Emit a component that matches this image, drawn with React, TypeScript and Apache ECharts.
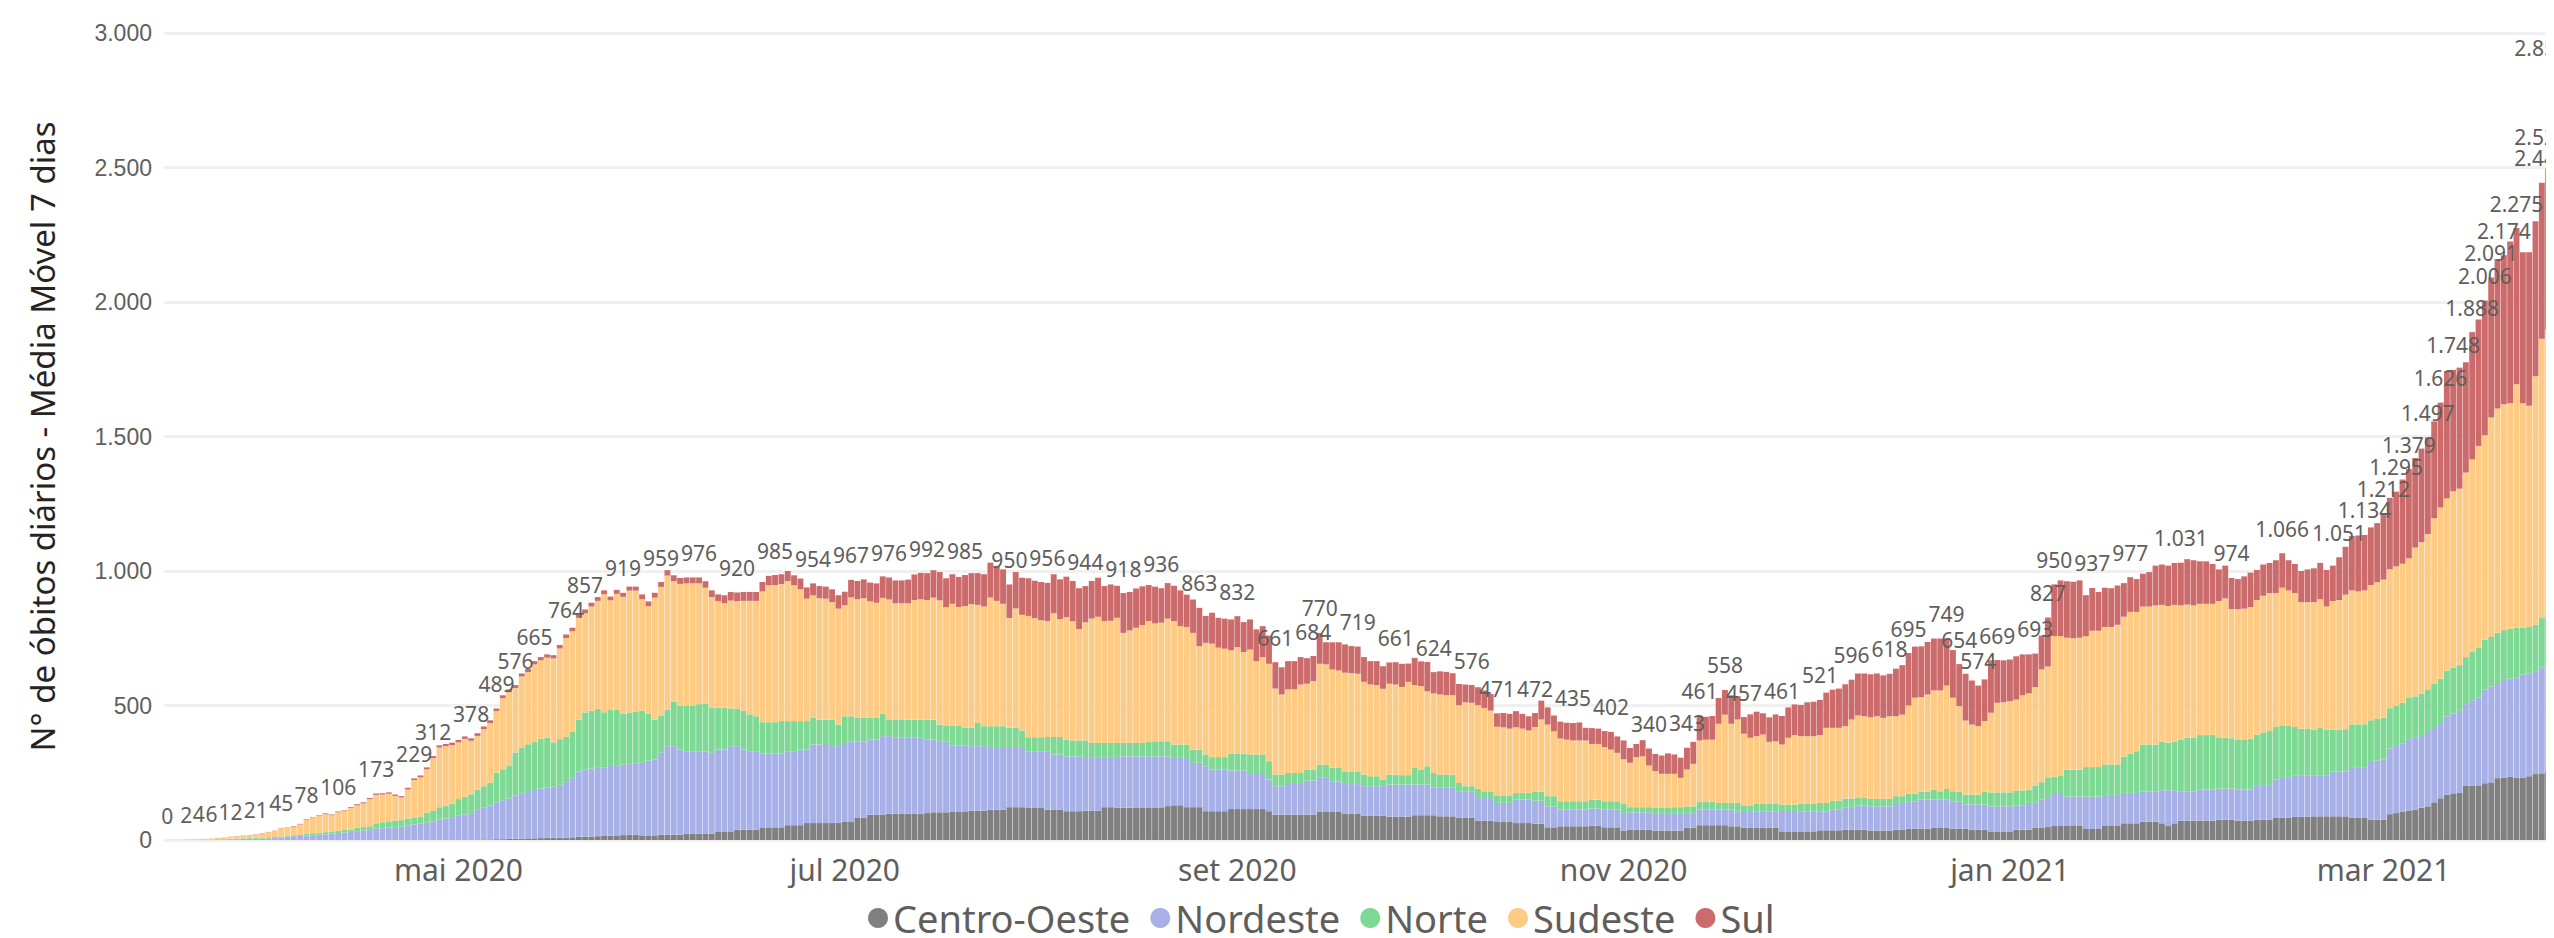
import React, { useEffect, useRef } from "react";
import * as echarts from "echarts";

// ---------- data ----------
const START_DATE_UTC = Date.UTC(2020, 2, 16); // first day shown: 2020-03-16
const MONTHS = ["jan", "fev", "mar", "abr", "mai", "jun", "jul", "ago", "set", "out", "nov", "dez"];
const SERIES_NAMES = ["Centro-Oeste", "Nordeste", "Norte", "Sudeste", "Sul"];
const COLORS = ["#808080", "#A7B1E8", "#7ED994", "#FECB84", "#CC6B6B"];
const Y_TICKS = [0, 500, 1000, 1500, 2000, 2500, 3000];

const CENTRO_OESTE = [
  0,0,0,0,0,0,0,0,0,0, 0,0,0,0,0,0,0,0,0,0, 0,0,0,0,0,0,0,0,0,0, 0,0,0,0,0,0,0,0,0,0, 0,0,0,0,0,0,0,0,0,0,
  2,2,3,3,4,5,5,6,6,7, 8,8,9,9,10,12,12,13,14,15, 16,17,18,19,20,17,17,17,20,20,
  20,20,24,24,24,24,24,32,32,32, 38,38,38,38,47,47,47,47,55,55, 55,63,63,63,63,63,65,69,69,82,
  82,94,94,94,98,98,98,98,98,98, 100,103,103,103,104,104,104,109,109,109, 113,113,113,122,122,122,119,119,119,113,
  113,113,107,107,107,109,109,109,122,122, 120,120,120,119,119,119,119,119,126,129, 129,122,122,122,107,107,107,107,115,115,
  115,115,115,115,107,94,94,94,94,94, 94,94,104,104,104,104,97,97,97,91, 91,91,91,87,87,87,87,92,92,92,
  92,88,88,88,82,82,82,72,72,72, 67,67,67,63,63,63,60,60,47,47, 51,51,51,51,51,53,53,47,47,47,
  35,38,38,38,38,35,35,35,35,35, 45,45,55,55,55,55,55,51,51,45, 45,45,45,45,45,32,32,32,32,32,
  32,36,36,36,36,38,38,38,38,35, 35,35,35,38,38,42,42,42,42,45, 45,45,42,42,42,38,38,38,32,32,
  32,32,38,38,38,45,45,48,52,52, 52,52,52,41,41,41,52,52,52,62, 62,62,68,68,68,62,52,62,72,72,
  72,72,72,72,76,76,76,72,72,72, 76,76,76,82,82,82,86,86,86,88, 88,88,88,88,88,82,82,82,76,76,
  76,96,100,106,110,113,120,125,140,155, 168,171,175,201,201,203,211,214,230,231, 235,231,231,237,245,248,255,251,271,275,
  280,285,
];

const NORDESTE = [
  0,0,0,0,0,1,1,1,2,2, 3,3,4,4,5,5,6,7,10,12, 14,15,17,18,20,21,24,26,28,30, 33,35,37,42,44,46,48,50,55,58,
  61,64,68,76,80,85,90,95,100,112, 118,126,137,145,151,160,167,172,180,185, 188,190,196,206,220,243,250,252,254,255,
  259,261,262,263,265,270,278,282,304,329, 329,316,304,304,304,304,300,304,304,317, 311,298,292,292,274,274,274,274,275,275,
  281,273,292,292,294,286,284,288,298,285, 285,279,279,292,288,284,284,282,282,282, 273,270,262,262,248,248,248,240,240,240,
  229,229,229,220,220,220,211,211,211,217, 205,205,204,204,204,196,196,196,183,183, 189,191,191,192,192,192,192,192,185,176,
  176,183,165,165,167,155,155,155,143,143, 143,134,134,134,118,106,106,118,118,118, 127,127,127,127,114,114,111,111,111,109,
  109,109,109,119,119,119,119,114,114,114, 104,108,108,108,97,97,97,84,84,84, 71,71,71,87,87,87,86,86,78,78,
  62,62,62,62,62,64,64,66,66,66, 65,65,65,65,65,62,62,62,62,62, 55,55,58,58,58,58,58,62,56,59,
  59,62,62,62,62,72,72,72,75,75, 75,71,71,77,77,84,84,91,91,90, 90,90,90,96,96,102,102,108,108,105,
  105,105,102,102,90,94,94,94,93,93, 93,93,91,91,100,93,105,112,119,119, 109,109,109,120,120,120,115,115,115,113,
  113,113,113,113,113,123,133,123,109,109, 109,115,115,115,115,115,115,115,115,115, 125,125,125,143,149,149,155,155,155,153,
  153,153,166,166,166,189,189,189,214,219, 224,244,250,254,262,267,270,280,280,280, 292,299,305,304,319,327,349,356,350,364,
  365,374,384,383,380,392,395,404,402,410, 415,420,
];

const NORTE = [
  0,0,0,0,0,0,0,0,1,1, 2,2,2,3,3,3,4,4,3,4, 4,4,6,7,7,8,8,8,9,9, 12,13,14,20,22,23,24,24,25,26,
  26,38,40,46,48,50,62,66,70,75, 80,85,110,115,120,160,170,178,180,185, 185,165,170,168,172,192,212,215,220,205,
  208,206,190,192,193,194,174,148,139,136, 165,164,172,172,177,179,167,155,155,140, 140,144,137,130,117,117,117,121,112,112,
  106,106,99,92,90,98,80,103,93,87, 87,81,81,83,62,66,66,67,67,67, 74,74,64,61,74,74,65,68,86,74,
  81,81,81,75,75,65,52,52,52,53, 65,65,62,59,59,65,56,56,56,56, 52,50,50,50,50,54,56,56,56,50,
  50,50,49,49,44,46,46,46,62,62, 62,69,69,69,68,43,43,37,37,37, 41,41,49,49,50,50,47,47,47,43,
  37,37,25,37,37,35,35,62,56,68, 53,47,47,47,33,21,21,34,25,25, 28,28,28,25,25,25,33,33,38,38,
  31,31,31,31,31,33,33,31,31,31, 34,19,19,19,19,22,22,22,25,25, 25,25,28,28,28,25,25,25,31,25,
  25,27,27,27,27,28,28,28,27,27, 27,31,31,33,33,32,32,27,27,28, 28,28,28,29,29,28,28,29,29,37,
  31,40,37,35,37,37,37,47,52,52, 52,52,55,55,49,65,65,73,64,69, 100,100,100,110,110,110,114,114,114,135,
  146,155,174,174,174,181,177,181,191,199, 199,203,203,205,191,189,187,187,187,189, 191,199,204,195,195,195,179,173,173,169,
  175,169,156,156,158,159,159,159,155,155, 155,150,150,150,156,154,155,155,160,165, 170,170,170,175,180,185,185,185,190,185,
  185,185,175,172,175,185,182,180,179,180, 180,180,
];

const SUDESTE = [
  0,1,1,2,3,3,4,5,5,7, 6,8,9,10,12,17,19,23,31,30, 32,39,53,57,63,67,60,69,70,80, 84,88,101,106,103,103,92,84,108,139,
  146,161,196,222,221,218,211,215,199,200, 212,222,229,264,274,240,266,268,287,291, 297,312,337,368,374,379,369,388,401,439,
  408,431,434,453,449,414,400,454,478,498, 448,452,454,454,449,431,412,397,389,401, 399,409,422,429,486,509,510,509,521,505,
  490,455,455,452,450,437,431,413,442,441, 445,433,428,431,446,432,432,433,445,448, 445,454,462,439,452,440,453,460,439,445,
  478,466,455,408,444,430,451,442,435,431, 460,438,456,443,414,439,462,469,453,454, 465,409,418,428,438,449,438,441,456,459,
  440,437,434,385,415,422,407,403,385,397, 379,390,347,362,362,320,298,311,311,329, 319,329,375,373,366,362,367,365,363,345,
  341,339,337,338,335,328,347,308,310,279, 296,298,295,295,289,312,310,311,310,300, 255,253,248,244,239,232,241,269,266,241,
  233,229,226,226,226,207,207,201,192,180, 166,165,186,189,155,137,127,127,124,109, 137,158,229,232,232,294,328,294,310,266,
  251,252,258,231,233,223,248,258,252,252, 252,252,279,271,271,269,294,307,304,303, 307,301,307,297,303,328,357,352,362,369,
  375,384,348,319,275,260,254,263,296,333, 335,339,338,354,358,365,419,412,523,518, 491,489,491,487,507,507,511,511,519,520,
  527,518,513,513,517,508,508,508,500,495, 492,488,488,486,506,518,480,484,486,490, 500,508,513,498,512,502,498,470,470,474,
  479,458,478,482,500,498,494,498,503,508, 513,517,517,517,519,553,562,577,616,636, 640,656,656,686,715,750,760,816,834,840,
  839,904,834,822,924,1038,1065,1108,1166,1215, 1265,1325,
];

const SUL = [
  0,0,0,0,0,0,0,0,0,0, 1,1,1,1,1,1,1,1,1,1, 2,2,2,2,2,3,3,3,3,3, 4,4,4,5,5,5,5,5,6,6,
  7,7,8,8,8,9,9,9,9,10, 10,10,10,11,11,11,11,12,12,12, 12,12,13,13,13,13,14,14,14,14,
  14,15,15,15,15,18,18,18,18,20, 22,22,22,22,22,24,25,25,30,32, 32,33,33,33,35,35,37,37,37,37,
  40,42,45,45,45,48,50,50,65,68, 70,70,72,80,82,85,85,88,95,98, 100,102,105,108,110,112,115,115,118,120,
  130,130,128,125,135,138,140,140,142,142, 145,148,150,150,152,135,140,145,130,135, 119,148,143,146,144,134,137,128,132,131,
  133,120,124,142,100,115,111,112,115,115, 111,112,118,115,105,98,101,105,105,102, 95,93,115,82,101,105,105,101,101,92,
  87,89,84,79,83,86,68,101,92,109, 79,86,87,82,79,66,66,67,65,62, 50,53,55,60,55,53,52,70,64,59,
  63,63,65,67,47,59,57,60,66,61, 70,55,49,60,63,64,68,76,72,75, 81,82,91,85,88,96,92,106,87,62,
  87,91,79,91,100,106,113,114,116,126, 128,131,131,142,146,156,148,156,159,160, 159,158,158,177,184,195,190,189,195,193,
  193,175,177,156,174,164,151,155,195,159, 156,155,161,152,145,125,126,182,192,207, 210,210,213,152,159,144,146,144,146,125,
  129,122,122,128,148,150,150,156,159,169, 168,158,158,148,118,122,116,112,120,128, 112,116,112,122,128,112,108,116,122,126,
  135,136,132,159,178,202,208,206,214,220, 244,265,278,313,332,333,348,360,360,390, 472,452,450,410,473,470,501,520,556,554,
  601,581,561,571,576,580,599,578,577,600, 620,642,
];

// days (index from START) whose total carries a data label
const LABELED_DAYS = [
  0, 3, 5, 7, 10, 14, 18, 22, 27, 33, 39, 42, 48, 52, 55, 58, 63, 66, 72, 78, 84, 90, 96, 102, 108, 114, 120, 126,
  133, 139, 145, 151, 157, 163, 169, 175, 181, 182, 188, 194, 200, 206, 210, 216, 222, 228, 234, 240, 242, 246, 249,
  255, 261, 266, 272, 275, 281, 283, 286, 289, 295, 297, 298, 304, 310, 318, 326, 334, 343, 347, 350, 352, 354, 357,
  359, 361, 364, 366, 367, 369, 371, 375, 377, 381,
];

// ---------- helpers ----------
const fmt = (v: number) => String(Math.round(v)).replace(/\B(?=(\d{3})+(?!\d))/g, ".");

function buildDates(n: number): string[] {
  const out: string[] = [];
  for (let i = 0; i < n; i++) {
    out.push(new Date(START_DATE_UTC + i * 86400000).toISOString().slice(0, 10));
  }
  return out;
}

const FONT = "'Segoe UI', 'Noto Sans', sans-serif";
const AXIS_Y_FONT = "'Liberation Sans', Arial, sans-serif";
const TEXT_GRAY = "#605E5C";

// layout constants (pixels)
const VIEW_W = 2554;
const CHART_W = 2575; // plot runs a little past the visible right edge
const CHART_H = 938;
const GRID_LEFT = 156;
const LABEL_FONT = 21;
const LABEL_RIGHT_LIMIT = VIEW_W + 6;

export default function App() {
  const ref = useRef<HTMLDivElement>(null);

  useEffect(() => {
    if (!ref.current) return;
    const chart = echarts.init(ref.current, null, { renderer: "svg" });

    const all = [CENTRO_OESTE, NORDESTE, NORTE, SUDESTE, SUL];
    const n = CENTRO_OESTE.length;
    const dates = buildDates(n);
    const totals = dates.map((_, i) => all.reduce((s, arr) => s + (arr[i] || 0), 0));
    const labeled = new Set(LABELED_DAYS);
    const bandW = (CHART_W - GRID_LEFT) / n;

    // keep labels of the last bars inside the visible area (shift left when needed)
    const labelShift = (i: number) => {
      const txt = fmt(totals[i]);
      let w = 0;
      for (const ch of txt) w += ch === "." ? 0.268 * LABEL_FONT : 0.572 * LABEL_FONT;
      const center = GRID_LEFT + (i + 0.5) * bandW;
      const over = center + w / 2 - LABEL_RIGHT_LIMIT;
      return over > 0 ? -over : 0;
    };

    const series: any[] = all.map((arr, k) => {
      const isTop = k === all.length - 1;
      return {
        name: SERIES_NAMES[k],
        type: "bar",
        stack: "total",
        barCategoryGap: "7%",
        itemStyle: { color: COLORS[k] },
        emphasis: { disabled: true },
        data: isTop
          ? arr.map((v, i) =>
              labeled.has(i) ? { value: v, label: { show: true, offset: [labelShift(i), 0] } } : v
            )
          : arr,
        label: isTop
          ? {
              show: false,
              position: "top",
              distance: 14,
              fontSize: LABEL_FONT,
              fontFamily: FONT,
              color: TEXT_GRAY,
              formatter: (p: any) => fmt(totals[p.dataIndex]),
            }
          : { show: false },
      };
    });

    chart.setOption({
      animation: false,
      backgroundColor: "#ffffff",
      tooltip: { show: false },
      legend: {
        data: SERIES_NAMES,
        icon: "circle",
        itemWidth: 20,
        itemHeight: 20,
        itemGap: 20,
        left: 855,
        top: 886,
        textStyle: { fontSize: 38, color: TEXT_GRAY, fontFamily: FONT },
      },
      grid: { left: GRID_LEFT, top: 25, bottom: 106, right: 0, containLabel: false },
      xAxis: {
        type: "category",
        data: dates,
        axisLine: { show: false },
        axisTick: { show: false },
        splitLine: { show: false },
        axisLabel: {
          interval: (_idx: number, value: string) => {
            const parts = value.split("-");
            return parts[2] === "01" && Number(parts[1]) % 2 === 1;
          },
          formatter: (value: string) => {
            const parts = value.split("-");
            return `${MONTHS[Number(parts[1]) - 1]} ${parts[0]}`;
          },
          fontSize: 30,
          color: TEXT_GRAY,
          fontFamily: FONT,
          margin: 14,
        },
      },
      yAxis: {
        type: "value",
        min: Y_TICKS[0],
        max: Y_TICKS[Y_TICKS.length - 1],
        interval: Y_TICKS[1] - Y_TICKS[0],
        name: "N° de óbitos diários - Média Móvel 7 dias",
        nameLocation: "middle",
        nameGap: 105,
        nameTextStyle: { fontSize: 33, color: "#252423", fontFamily: FONT },
        axisLine: { show: false },
        axisTick: { show: false },
        axisLabel: {
          fontSize: 23,
          color: TEXT_GRAY,
          fontFamily: AXIS_Y_FONT,
          margin: 12,
          formatter: (v: number) => fmt(v),
        },
        splitLine: { lineStyle: { color: "#F0F0F0", width: 3 } },
      },
      series,
    });

    return () => chart.dispose();
  }, []);

  return (
    <div
      ref={ref}
      style={{ position: "fixed", left: 0, top: 0, width: CHART_W, height: CHART_H, background: "#fff" }}
    />
  );
}
